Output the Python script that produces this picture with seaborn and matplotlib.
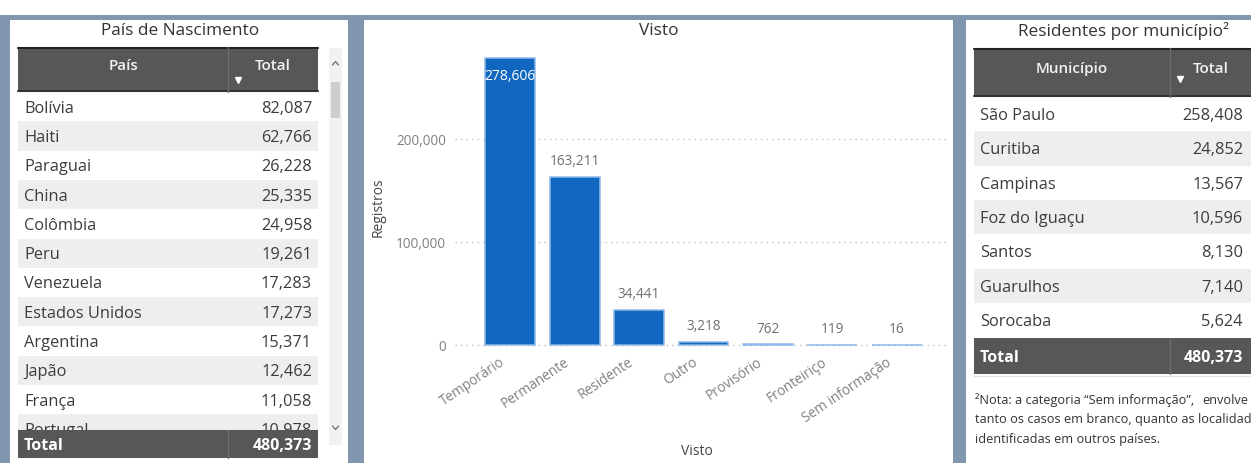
import matplotlib
matplotlib.use("Agg")
import matplotlib.pyplot as plt
import numpy as np
import pandas as pd
import seaborn as sns
from matplotlib.patches import Rectangle
from matplotlib.ticker import FuncFormatter
from matplotlib.transforms import ScaledTranslation

# ---- data ----
paises = ["Bolívia", "Haiti", "Paraguai", "China", "Colômbia", "Peru", "Venezuela",
          "Estados Unidos", "Argentina", "Japão", "França", "Portugal"]
paises_total = [82087, 62766, 26228, 25335, 24958, 19261, 17283, 17273, 15371, 12462, 11058, 10978]

vistos = ["Temporário", "Permanente", "Residente", "Outro", "Provisório", "Fronteiriço", "Sem informação"]
vistos_registros = [278606, 163211, 34441, 3218, 762, 119, 16]

municipios = ["São Paulo", "Curitiba", "Campinas", "Foz do Iguaçu", "Santos", "Guarulhos", "Sorocaba"]
municipios_total = [258408, 24852, 13567, 10596, 8130, 7140, 5624]

total_registros = 480373
y_ticks = [0, 100000, 200000]

nota_linha1 = ["²Nota: a categoria “Sem informação”,", "envolve"]
nota_linha2 = "tanto os casos em branco, quanto as localidades"
nota_linha3 = "identificadas em outros países."

# ---- style ----
sns.set_theme(style="white")
plt.rcParams["font.family"] = ["Open Sans", "DejaVu Sans"]

W, H = 1251, 463
BG = "#8196AF"
HEAD = "#575757"
STRIPE = "#EEEEEE"
TXT = "#3c3c3c"
AX_TXT = "#707070"
BLUE = "#1167C0"
BODY_FS = 11.8
TITLE_FS = 12.4

fig = plt.figure(figsize=(W / 100, H / 100), dpi=100, facecolor="white")


def px_box(x0, y0, x1, y1):
    return [x0 / W, 1 - y1 / H, (x1 - x0) / W, (y1 - y0) / H]


# canvas in pixel units for panels and tables
cv = fig.add_axes([0, 0, 1, 1])
cv.set_xlim(0, W)
cv.set_ylim(H, 0)
cv.axis("off")


def rect(x0, y0, x1, y1, color, z=1):
    cv.add_patch(Rectangle((x0, y0), x1 - x0, y1 - y0, facecolor=color,
                           edgecolor="none", zorder=z))


# dashboard background and panels
rect(0, 15, W, H, BG, z=0)
rect(10, 20, 348, H, "white", z=0.5)
rect(364, 20, 953, H, "white", z=0.5)
rect(966, 20, W, H, "white", z=0.5)


def header(x0, x1, xdiv, y0, y1, name_label, dy_text, dy_tri):
    rect(x0, y0, x1, y1, HEAD, z=2)
    cv.plot([x0, x1], [y0 + 0.8, y0 + 0.8], color="#222222", lw=1.5, zorder=3)
    cv.plot([x0, x1], [y1 - 0.8, y1 - 0.8], color="#333333", lw=1.5, zorder=3)
    cv.plot([xdiv, xdiv], [y0, y1], color="#6e6e6e", lw=1, zorder=3)
    cy = (y0 + y1) / 2
    cv.text((x0 + xdiv) / 2, cy + dy_text, name_label, color="#f2f2f2", fontsize=11,
            fontweight="semibold", ha="center", va="center", zorder=4)
    cv.text((xdiv + x1) / 2, cy + dy_text, "Total", color="#f2f2f2", fontsize=11,
            fontweight="semibold", ha="center", va="center", zorder=4)
    cv.plot([xdiv + 10], [cy + dy_tri], marker="v", color="white", markersize=5,
            zorder=4, linestyle="none")


def total_row(x0, x1, xdiv, y0, y1, lx, vx):
    rect(x0, y0, x1, y1, HEAD, z=5)
    cv.plot([xdiv, xdiv], [y0, y1], color="#6e6e6e", lw=1, zorder=6)
    cy = (y0 + y1) / 2
    cv.text(lx, cy + 5.5, "Total", color="white", fontsize=11.5, fontweight="bold",
            ha="left", va="baseline", zorder=7)
    cv.text(vx, cy + 5.5, f"{total_registros:,}", color="white", fontsize=11.5,
            fontweight="bold", ha="right", va="baseline", zorder=7)


# ---- left table: País de Nascimento ----
cv.text(180, 31, "País de Nascimento", fontsize=TITLE_FS, color="#333333",
        ha="center", va="center", zorder=4)
header(18, 318, 228, 47, 92, "País", -4, 10.5)
row_h = 29.3
for i, (nome, val) in enumerate(zip(paises, paises_total)):
    y0 = 92 + i * row_h
    if i % 2 == 1:
        rect(18, y0, 318, y0 + row_h, STRIPE, z=1)
    yb = y0 + row_h / 2 + 6
    cv.text(24, yb, nome, fontsize=BODY_FS, color=TXT, ha="left", va="baseline", zorder=2)
    cv.text(312, yb, f"{val:,}", fontsize=BODY_FS, color=TXT, ha="right", va="baseline", zorder=2)
total_row(18, 318, 228, 430, 458, 24, 312)
rect(18, 458, 318, H, "white", z=5)

# scrollbar
rect(329, 48, 342, 445, "#F2F2F2", z=1)
rect(331, 82, 340, 118, "#CCCCCC", z=2)
cv.plot([332.5, 335.5, 338.5], [65, 61.5, 65], color="#777777", lw=1, zorder=3)
cv.plot([332.5, 335.5, 338.5], [426, 429.5, 426], color="#777777", lw=1, zorder=3)

# ---- right table: Residentes por município ----
cv.text(1124, 31, "Residentes por município²", fontsize=TITLE_FS, color="#333333",
        ha="center", va="center", zorder=4)
header(974, W, 1170, 48, 97, "Município", -3.5, 6.5)
row_h2 = 34.3
for i, (nome, val) in enumerate(zip(municipios, municipios_total)):
    y0 = 97 + i * row_h2
    if i % 2 == 1:
        rect(974, y0, W, y0 + row_h2, STRIPE, z=1)
    yb = y0 + row_h2 / 2 + 6
    cv.text(980, yb, nome, fontsize=BODY_FS, color=TXT, ha="left", va="baseline", zorder=2)
    cv.text(1243, yb, f"{val:,}", fontsize=BODY_FS, color=TXT, ha="right", va="baseline", zorder=2)
total_row(974, W, 1170, 338, 374, 980, 1243)
cv.plot([974, W], [376, 376], color="#E2E2E2", lw=1, zorder=2)

# footnote
note_kw = dict(fontsize=9.2, color="#333333", va="center", zorder=2)
cv.text(975, 400, nota_linha1[0], ha="left", **note_kw)
cv.text(1248, 400, nota_linha1[1], ha="right", **note_kw)
cv.text(975, 420, nota_linha2, ha="left", **note_kw)
cv.text(975, 440, nota_linha3, ha="left", **note_kw)

# ---- middle: bar chart Visto ----
cv.text(659, 31, "Visto", fontsize=TITLE_FS, color="#333333", ha="center", va="center", zorder=4)

df = pd.DataFrame({"Visto": vistos, "Registros": vistos_registros})
axb = fig.add_axes(px_box(455, 46.3, 950, 348.1))
axb.patch.set_alpha(0)
sns.barplot(data=df, x="Visto", y="Registros", color=BLUE, saturation=1,
            width=0.775, edgecolor="#8DB9E8", linewidth=1.1, ax=axb, zorder=3)
axb.set_xlim(-0.853, 6.822)
axb.set_ylim(-3000, 290000)
for s in axb.spines.values():
    s.set_visible(False)
axb.set_yticks(y_ticks)
axb.yaxis.set_major_formatter(FuncFormatter(lambda v, p: f"{int(v):,}"))
axb.yaxis.grid(True, linestyle=(0, (1, 3)), color="#BDBDBD", lw=1)
axb.set_axisbelow(True)
axb.tick_params(axis="both", length=0, labelsize=9.8, labelcolor="#808080")
axb.tick_params(axis="y", pad=6.5)
axb.tick_params(axis="x", pad=5)
shift = ScaledTranslation(-11 / 100, 0, fig.dpi_scale_trans)
for lab in axb.get_xticklabels():
    lab.set_rotation(34)
    lab.set_ha("right")
    lab.set_rotation_mode("anchor")
    lab.set_transform(lab.get_transform() + shift)
axb.set_ylabel("Registros", fontsize=10, color="#444444")
axb.yaxis.set_label_coords(-0.141, 0.467)
axb.set_xlabel("Visto", fontsize=10, color="#444444")
axb.xaxis.set_label_coords(0.489, -0.318)

for i, (bar, v) in enumerate(zip(axb.patches, vistos_registros)):
    cx = bar.get_x() + bar.get_width() / 2
    if i == 0:
        t = axb.annotate(f"{v:,}", xy=(cx, v), xytext=(0, -13.5), textcoords="offset points",
                         ha="center", va="center", fontsize=10, color="white", zorder=5)
        t.set_clip_path(bar)
    else:
        axb.annotate(f"{v:,}", xy=(cx, v), xytext=(0, 10.8), textcoords="offset points",
                     ha="center", va="center", fontsize=9.8, color=AX_TXT, zorder=5)

fig.savefig("out.png", dpi=100, facecolor=fig.get_facecolor())
